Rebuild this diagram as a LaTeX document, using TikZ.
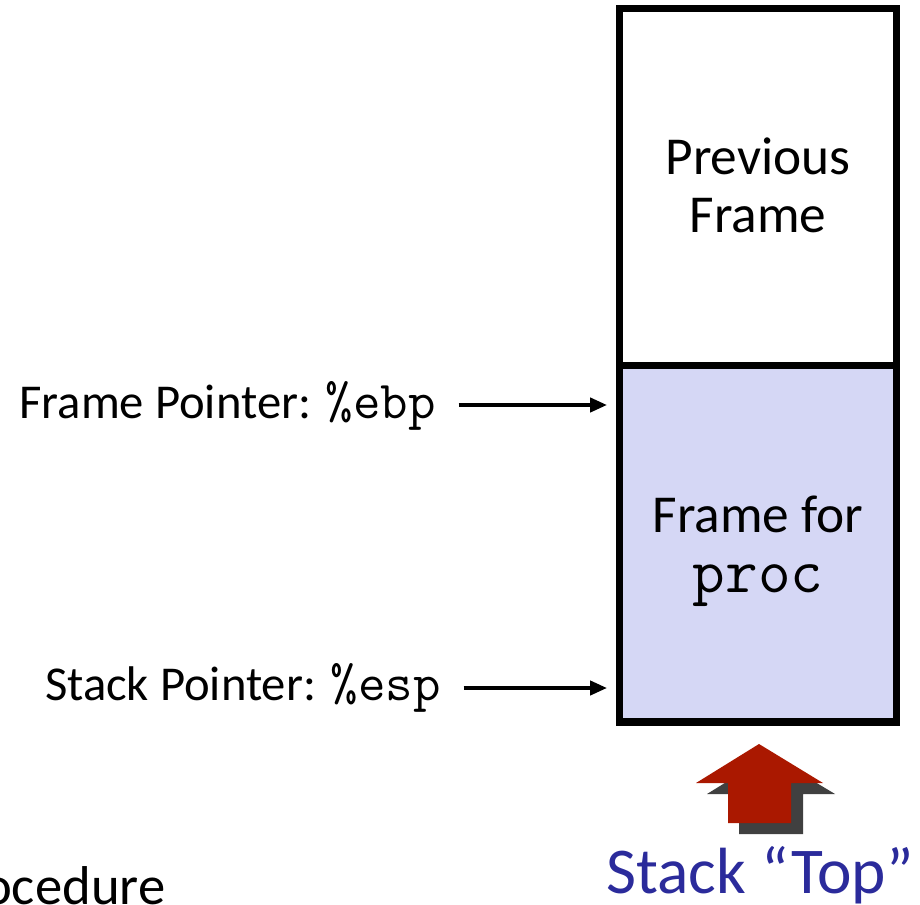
\documentclass[tikz,border=0pt]{standalone}
\usepackage{fontspec}
\setmainfont{Carlito}
\usetikzlibrary{arrows.meta}
\definecolor{framefill}{RGB}{213,215,245}
\definecolor{arrowred}{RGB}{170,24,0}
\definecolor{shadowgray}{RGB}{64,64,64}
\definecolor{topblue}{RGB}{43,43,155}
\tikzset{
  stackbox/.style={draw=black, line width=5.6pt, minimum width=207.75pt,
    minimum height=267.5pt, inner sep=0pt},
  boxtext/.style={inner sep=0pt, anchor=base, font=\fontsize{40}{48}\selectfont},
  ptrlabel/.style={inner sep=0pt, anchor=base east, font=\fontsize{36.5}{44}\selectfont},
  ptrarrow/.style={line width=3pt, -{Triangle[length=12.75pt,width=10.5pt]},
    shorten <=17pt, shorten >=6.5pt},
  bigtext/.style={inner sep=0pt, font=\fontsize{49}{58}\selectfont}
}
\newcommand{\codefont}{\fontsize{40}{48}\selectfont\ttfamily}
\newcommand{\bigcode}{\fontsize{47.5}{56}\selectfont\ttfamily}
\begin{document}
\begin{tikzpicture}[x=0.75pt, y=-0.75pt]
\useasboundingbox (0,0) rectangle (920,905);

% stack frames
\node[stackbox, fill=framefill] (cur) at (758,543.5) {};
\node[stackbox, fill=white] (prev) at (758,187) {};
\node[boxtext] (prev1) at (prev.center |- 0,175) {Previous};
\node[boxtext] (prev2) at (prev.center |- 0,233) {Frame};
\node[boxtext] (cur1) at (cur.center |- 0,532) {Frame for};
\node[boxtext, font=\bigcode] (cur2) at (cur.center |- 0,592) {proc};

% register labels
\node[ptrlabel] (fp) at (436,418) {Frame Pointer: {\codefont\%ebp}};
\node[ptrlabel] (sp) at (441,700) {Stack Pointer: {\codefont\%esp}};

\coordinate (fpy) at (0,405);
\coordinate (spy) at (0,688);
\draw[ptrarrow] (fp.east |- fpy) -- (cur.west |- fpy);
\draw[ptrarrow] (sp.east |- spy) -- (cur.west |- spy);

% block arrow marking the top of the stack, with its shadow
\fill[shadowgray] (770,755) -- (707,794) -- (739,794) -- (739,834)
  -- (803,834) -- (803,794) -- (835,794) -- cycle;
\fill[arrowred] (759,744) -- (696,783) -- (728,783) -- (728,823)
  -- (791,823) -- (791,783) -- (823,783) -- cycle;

\node[bigtext, text=topblue, anchor=base] (top) at (760,893)
  {Stack “Top”};
\node[bigtext, font=\fontsize{41}{50}\selectfont, anchor=base west]
  (proc) at (-64,904) {procedure};
\end{tikzpicture}
\end{document}
